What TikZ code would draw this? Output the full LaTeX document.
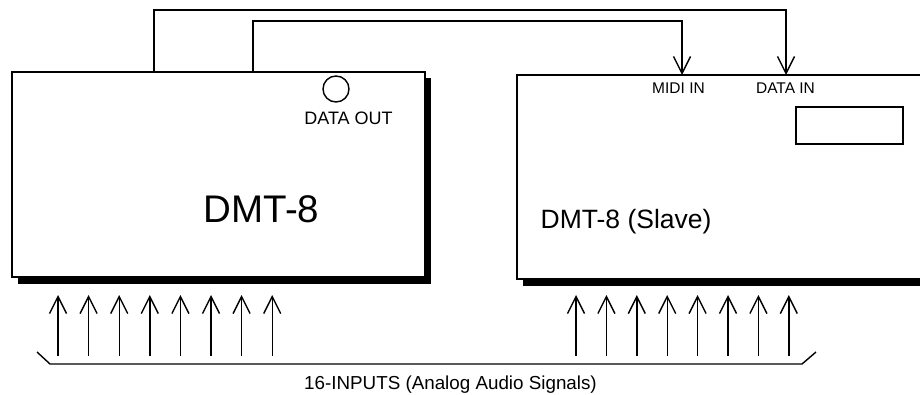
\documentclass[tikz,border=0pt]{standalone}
\usepackage{fontspec}
\setmainfont{Liberation Sans}
\usepackage{tikz}
\usetikzlibrary{positioning,arrows.meta,shadows}
\newcommand{\fsz}[1]{\fontsize{#1}{#1}\selectfont}

\begin{document}
\begin{tikzpicture}[x=1pt,y=-1pt,line width=1.4pt,
    unit/.style={draw,fill=white,inner sep=0pt,
        drop shadow={shadow xshift=5.5pt,shadow yshift=-6.5pt,opacity=1,fill=black}},
    lbl/.style={inner sep=0pt,anchor=base},
    sig/.style={-{Straight Barb[length=17pt,width=17pt,line width=1.4pt]}}]
    \useasboundingbox (0,0) rectangle (920,395);
    \clip (0,0) rectangle (920,395);
    \node[unit,minimum width=413pt,minimum height=205pt] (master) at (218.5,174.5) {};
    \node[unit,minimum width=443pt,minimum height=204pt] (slave) at (738.5,177) {};
    \node[draw,inner sep=0pt,minimum width=107pt,minimum height=37pt] (display) at (849.5,125.5) {};
    \node[draw,circle,inner sep=0pt,minimum size=26pt] (dataout) at (336,89) {};
    \node[lbl] (dataoutlbl) at (348.5,125) {\fsz{18}DATA OUT};
    \node[lbl] (mastername) at (261.5,223) {\fsz{38.5}DMT-8};
    \node[lbl,anchor=base west] (slavename) at (540,229) {\fsz{26.5}DMT-8 (Slave)};
    \node[lbl] (midiinlbl) at (678.5,94) {\fsz{15.5}MIDI IN};
    \node[lbl] (datainlbl) at (785.5,94) {\fsz{15.5}DATA IN};
    \coordinate (midiout) at (253,72);
    \coordinate (datasrc) at (154,72);
    \coordinate (midiin) at (682,75);
    \coordinate (datain) at (786,75);
    \draw[sig] (datasrc) -- ++(0,-62) -| (datain);
    \draw[sig] (midiout) -- ++(0,-51) -| (midiin);
    % inputs
    \coordinate (bl) at (37,352);
    \coordinate (br) at (816,352);
    \draw (bl) -- ++(13,12) -- ++(752,0) -- (br);
    \node[lbl] (inputs) at (450.5,389) {\fsz{18.8}16-INPUTS (Analog Audio Signals)};
    \foreach \i in {0,...,7} {
        \coordinate (m\i) at (58+30.6*\i,356);
        \coordinate (s\i) at (576+30.4*\i,356);
        \draw[sig] (m\i) -- ++(0,-61);
        \draw[sig] (s\i) -- ++(0,-61);
    }
\end{tikzpicture}
\end{document}
